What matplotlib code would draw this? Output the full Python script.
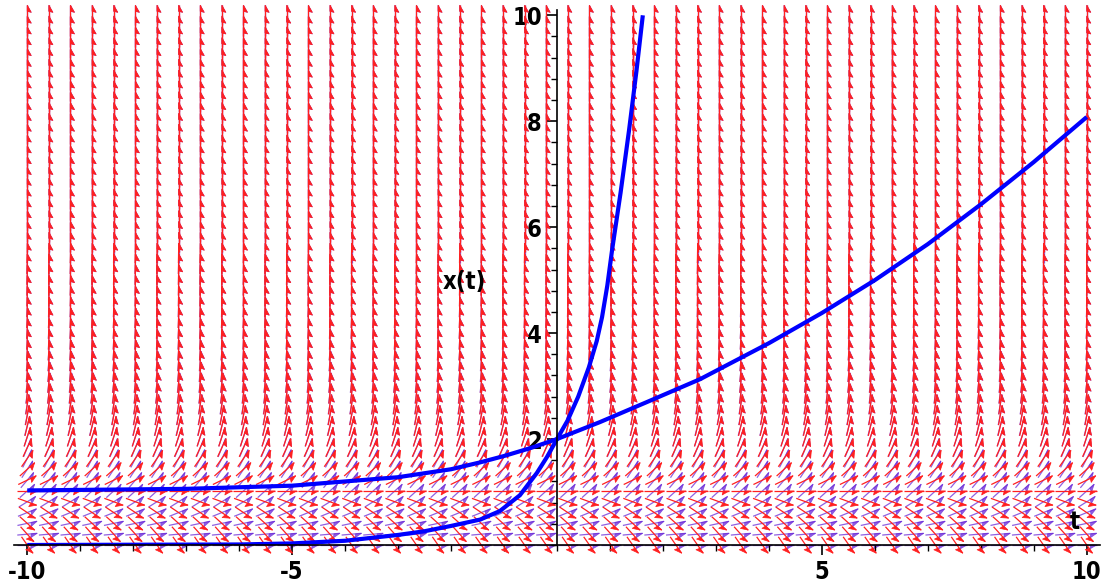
import numpy as np
import matplotlib
matplotlib.use("Agg")
import matplotlib.pyplot as plt
from matplotlib.collections import LineCollection, PolyCollection
from matplotlib.ticker import MultipleLocator, FixedLocator

# solution curves
t_fast = [-10, -6, -5, -4, -3, -2.5, -2, -1.45, -1.08, -0.7, -0.38, -0.19, 0.0,
          0.2, 0.4, 0.6, 0.75, 0.85, 0.95, 1.04, 1.2, 1.36, 1.5, 1.62]
x_fast = [0.0, 0.01, 0.03, 0.08, 0.19, 0.26, 0.36, 0.48, 0.64, 0.94, 1.36, 1.66, 2.0,
          2.35, 2.8, 3.35, 3.85, 4.3, 4.9, 5.57, 6.65, 7.83, 8.95, 10.0]

t_slow = [-10, -7, -5, -3, -2, -1.45, -1, -0.5, 0, 0.81, 1.7, 2.7, 4, 5, 6, 7, 8, 9, 10]
x_slow = [1.03, 1.06, 1.12, 1.28, 1.43, 1.56, 1.68, 1.83, 2.0, 2.32, 2.7, 3.13, 3.81,
          4.38, 5.0, 5.68, 6.43, 7.23, 8.08]

# direction field: 50 x 50 grid, arrow angle (deg, on screen) per row
n_cols, n_rows = 50, 50
red_angle = [-55, -48, -42, -34, -20, 0, 26, 42, 55, 65,
             72, 77, 80, 82, 84, 85, 86, 87, 87, 88,
             88, 88, 89, 89, 89, 89, 89, 89, 90, 90,
             90, 90, 90, 90, 90, 90, 90, 90, 90, 90,
             90, 90, 90, 90, 90, 90, 90, 90, 90, 90]
blue_angle = [0, 5, 12, 22, 32, 42, 50, 57, 63, 68,
              72, 75, 78, 80, 82, 83, 84, 85, 86, 87,
              87, 88, 88, 89, 89, 89, 89, 90, 90, 90,
              90, 90, 90, 90, 90, 90, 90, 90, 90, 90,
              90, 90, 90, 90, 90, 90, 90, 90, 90, 90]

x_ticks = [-10, -5, 5, 10]
y_ticks = [2, 4, 6, 8, 10]

fig = plt.figure(figsize=(11.03, 5.84), dpi=100)
ax = fig.add_axes([14 / 1103, 39 / 584, 1086 / 1103, 535 / 584])
ax.set_xlim(-10.25, 10.25)
ax.set_ylim(0, 10.1)

t_grid = np.linspace(-10, 10, n_cols)
y_grid = np.linspace(0, 10, n_rows)


def field(angles, color, lw, zorder, alpha=1.0):
    inv = ax.transData.inverted()
    segs, heads = [], []
    L = 20.0
    for j, yv in enumerate(y_grid):
        a = np.deg2rad(angles[j])
        d = np.array([np.cos(a), np.sin(a)])
        r = np.array([d[1], -d[0]])
        for tv in t_grid:
            p = ax.transData.transform((tv, yv))
            tail = p - d * L / 2
            tip = p + d * L / 2
            segs.append(inv.transform([tail, tip]))
            heads.append(inv.transform([tip, tip - 7 * d + 4 * r, tip - 6 * d]))
    ax.add_collection(LineCollection(segs, colors=color, linewidths=lw,
                                     zorder=zorder, alpha=alpha, clip_on=False))
    ax.add_collection(PolyCollection(heads, facecolors=color, edgecolors=color,
                                     linewidths=0.5, zorder=zorder, alpha=alpha,
                                     clip_on=False))


field(blue_angle, "#6a2ad8", 0.9, 1, alpha=0.75)
field(red_angle, "#ff2020", 0.9, 2)

ax.plot(t_slow, x_slow, color="#0000ff", lw=3.0, zorder=5, solid_capstyle="butt")
ax.plot(t_fast, x_fast, color="#0000ff", lw=3.0, zorder=5, solid_capstyle="butt")

for s in ["top", "right"]:
    ax.spines[s].set_visible(False)
ax.spines["left"].set_position(("data", 0))
ax.spines["bottom"].set_position(("data", 0))
for s in ["left", "bottom"]:
    ax.spines[s].set_linewidth(1.2)
    ax.spines[s].set_zorder(6)

font = dict(family="DejaVu Sans", stretch="condensed", weight="bold", size=17)
ax.xaxis.set_major_locator(FixedLocator(x_ticks))
ax.xaxis.set_minor_locator(MultipleLocator(1))
ax.yaxis.set_major_locator(FixedLocator(y_ticks))
ax.yaxis.set_minor_locator(MultipleLocator(0.4))
ax.set_xticklabels([str(v) for v in x_ticks], fontdict=font)
ax.set_yticklabels([str(v) for v in y_ticks], fontdict=font)
ax.tick_params(which="major", length=7, width=1.2, pad=4)
ax.tick_params(which="minor", length=4, width=1.0)

ax.text(-1.74, 4.96, "x(t)", ha="center", va="center", zorder=7, fontdict=font)
ax.text(9.77, 0.43, "t", ha="center", va="center", zorder=7, fontdict=font)

fig.savefig("out.png", dpi=100)
